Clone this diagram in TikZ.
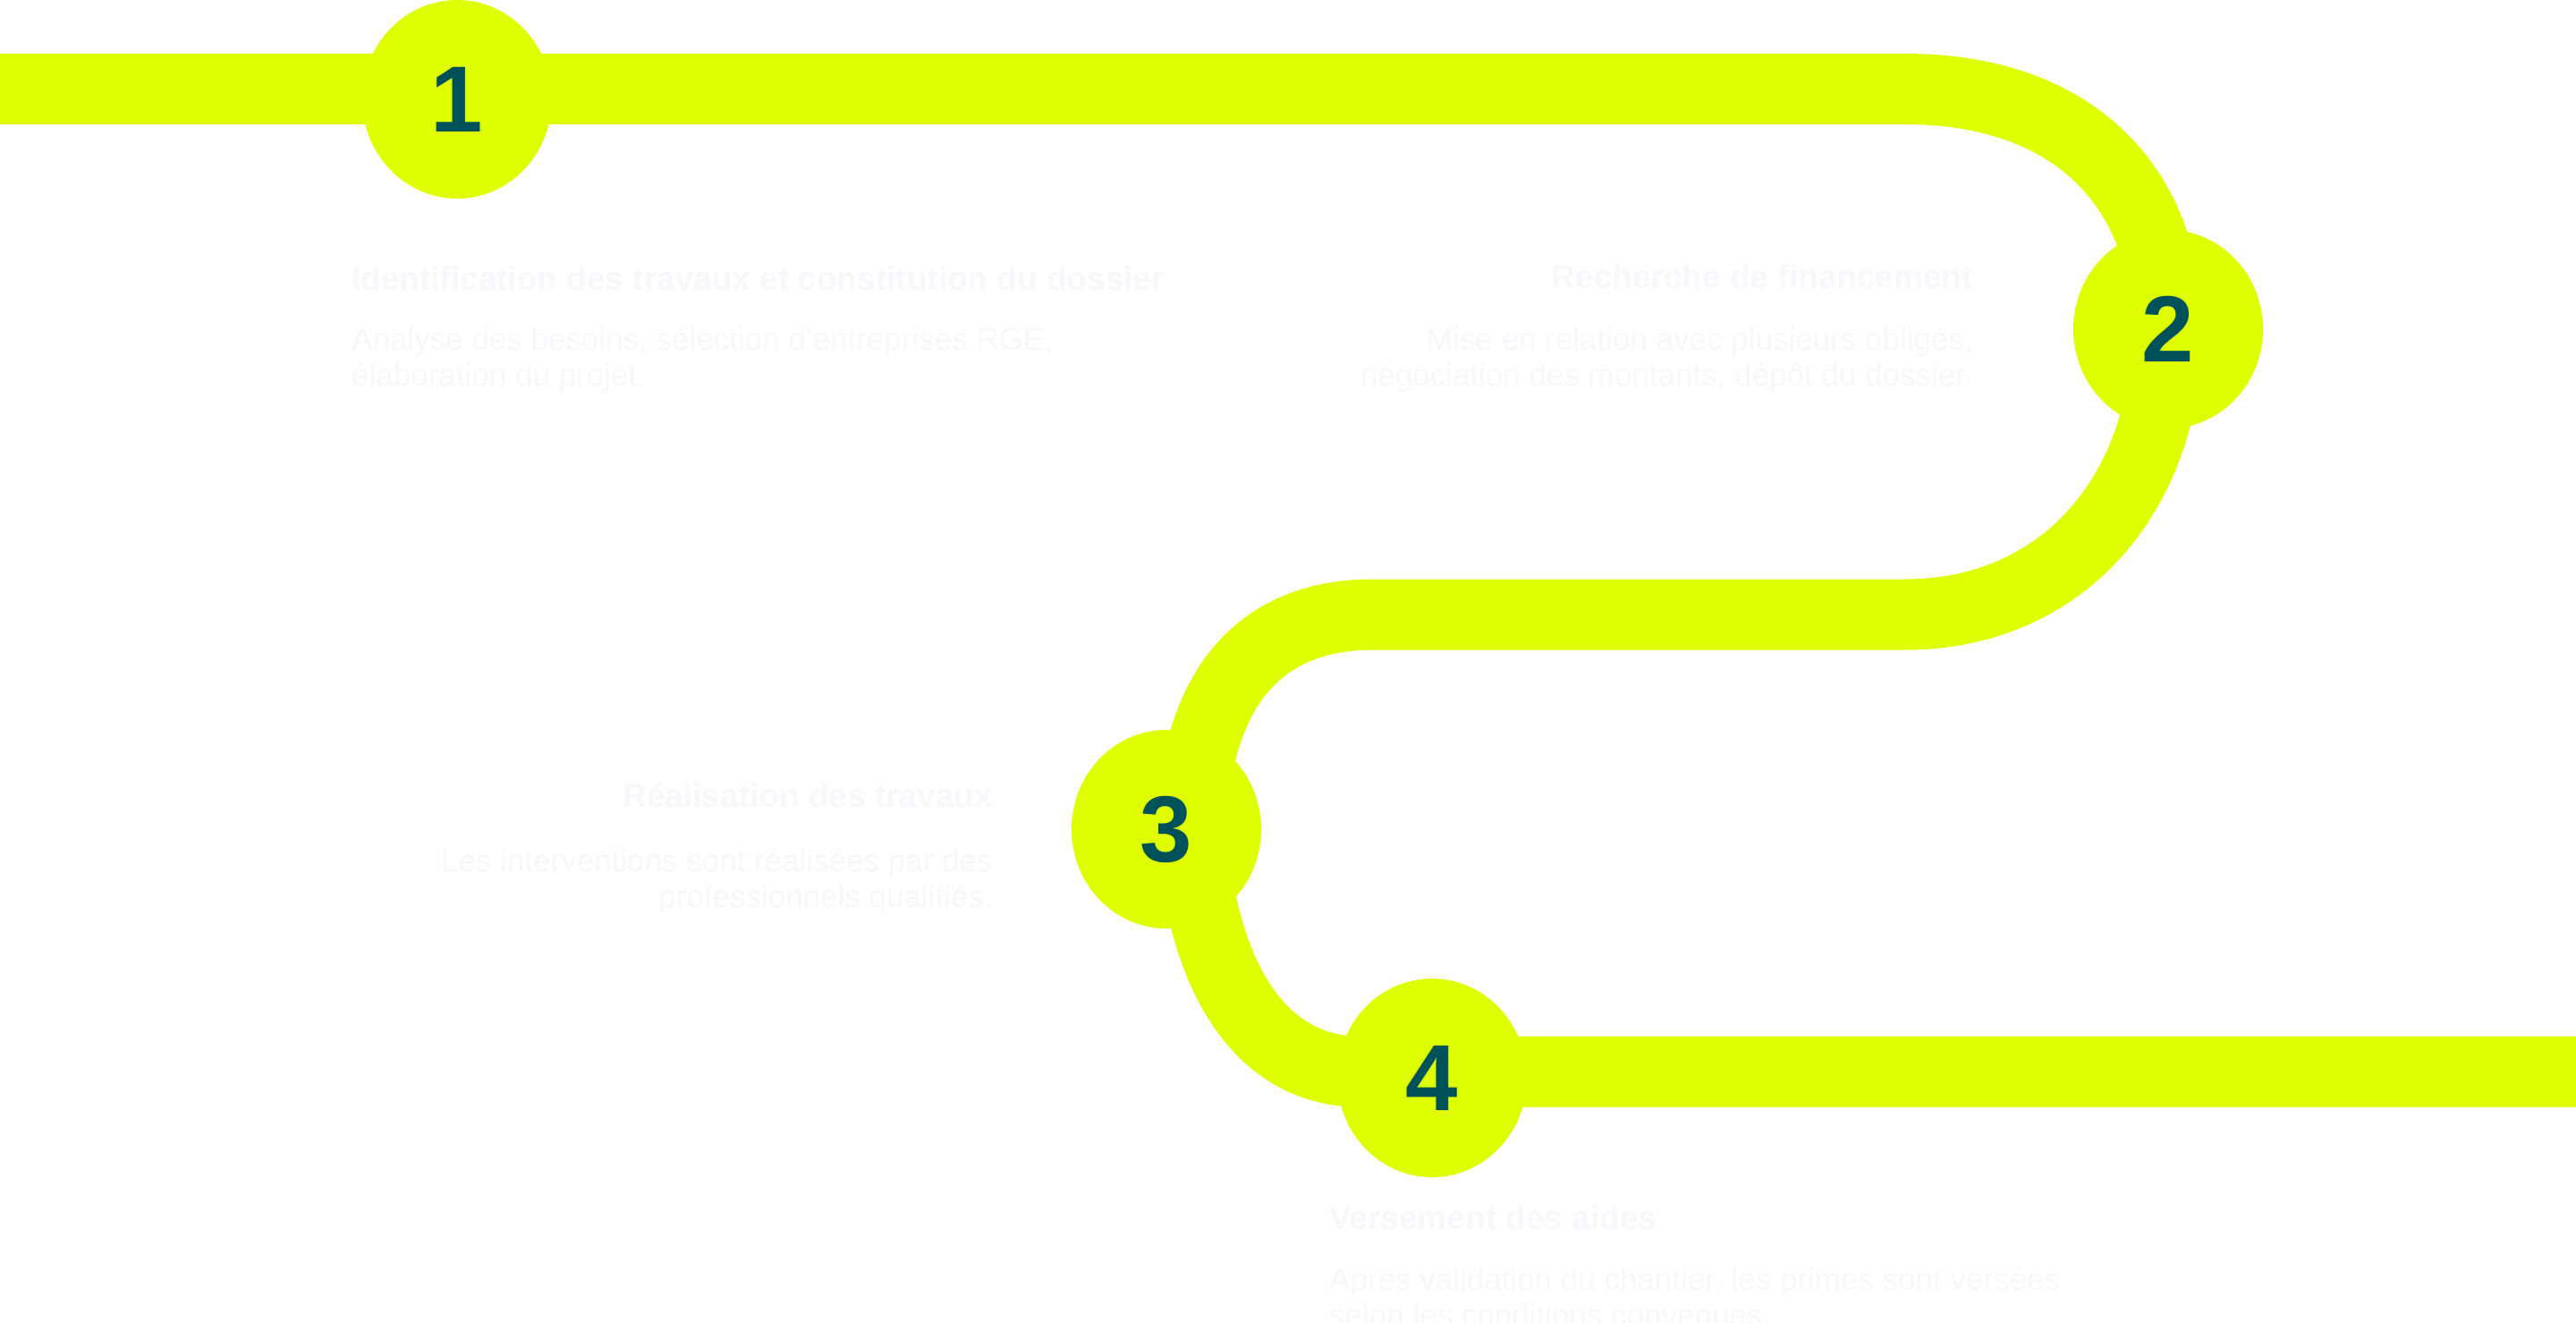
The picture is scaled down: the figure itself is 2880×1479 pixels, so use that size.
\documentclass[tikz,border=0pt]{standalone}
\usepackage{fontspec}
\setmainfont{Liberation Sans}
\usetikzlibrary{shapes.geometric}

\definecolor{lime}{RGB}{223,255,0}
\definecolor{teal}{RGB}{0,82,90}
\definecolor{faint}{RGB}{246,248,251}

\tikzset{
    band/.style={line width=79pt,lime},
    stepdot/.style={ellipse,fill=lime,minimum width=212pt,minimum height=222pt,
        inner sep=0pt,text=teal,font=\fontsize{105}{105}\selectfont\bfseries},
    title/.style={inner sep=0pt,text=faint,font=\fontsize{37}{40}\selectfont\bfseries},
    body/.style={inner sep=0pt,text=faint,font=\fontsize{35}{40}\selectfont}
}

\begin{document}
\begin{tikzpicture}[x=1pt,y=-1pt]
    \useasboundingbox (0,0) rectangle (2880,1479);

    \coordinate (start) at (0,99.5);
    \coordinate (topend) at (2130,99.5);
    \coordinate (midright) at (2130,687);
    \coordinate (midleft) at (1535,687);
    \coordinate (lowleft) at (1520,1198);
    \coordinate (finish) at (2880,1198);

    % the road
    \draw [band] (start) -- (topend)
        .. controls (2310,99.5) and (2420,200) .. (2424,368)
        .. controls (2420,560) and (2300,687) .. (midright)
        -- (midleft)
        .. controls (1400,687) and (1336,780) .. (1332,927)
        .. controls (1345,1110) and (1420,1198) .. (lowleft)
        -- (finish);

    \node[stepdot] (step1) at (511,111) {1};
    \node[stepdot] (step2) at (2424,368) {2};
    \node[stepdot] (step3) at (1304,927) {3};
    \node[stepdot] (step4) at (1601,1205) {4};

    % step texts
    \node[title,anchor=base west] (title1) at (393,324)
        {Identification des travaux et constitution du dossier};
    \node[body,anchor=base west,align=left] (text1) at (393,431)
        {Analyse des besoins, sélection d'entreprises RGE,\\élaboration du projet.};

    \node[title,anchor=base east] (title2) at (2206,323) {Recherche de financement};
    \node[body,anchor=base east,align=right] (text2) at (2206,431)
        {Mise en relation avec plusieurs obligés,\\négociation des montants, dépôt du dossier.};

    \node[title,anchor=base east] (title3) at (1110,902) {Réalisation des travaux};
    \node[body,anchor=base east,align=right] (text3) at (1110,1014)
        {Les interventions sont réalisées par des\\professionnels qualifiés.};

    \node[title,anchor=base west] (title4) at (1486,1374) {Versement des aides};
    \node[body,anchor=base west,align=left] (text4) at (1486,1482)
        {Après validation du chantier, les primes sont versées\\selon les conditions convenues.};
\end{tikzpicture}
\end{document}
